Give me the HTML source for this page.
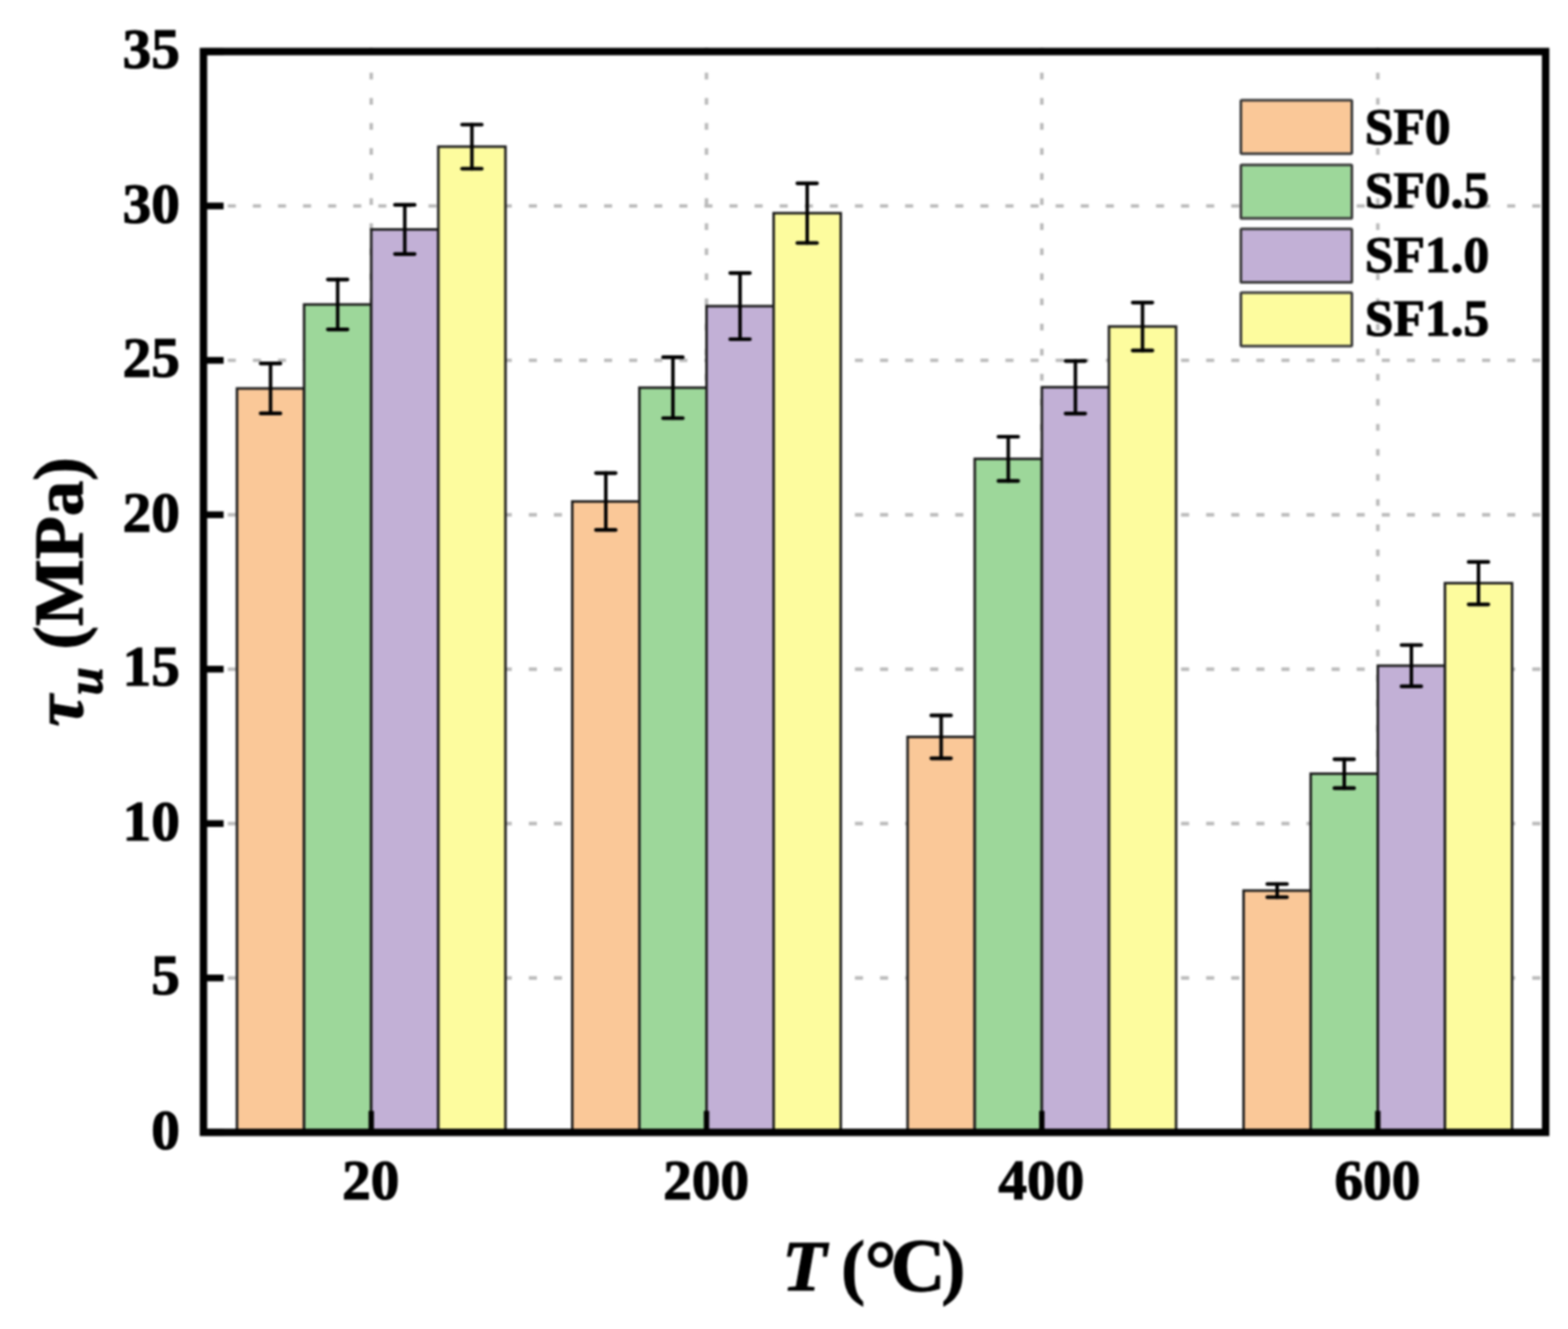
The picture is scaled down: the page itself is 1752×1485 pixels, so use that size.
<!DOCTYPE html>
<html><head><meta charset="utf-8"><title>Bond strength vs temperature</title>
<style>html,body{margin:0;padding:0;background:#fff;}svg{display:block;}#w{filter:blur(1px);}
text{font-family:"Liberation Serif","Times New Roman",serif;font-weight:bold;fill:#000;stroke:#000;stroke-width:1.2px;}</style>
</head><body>
<div id="w"><svg width="1752" height="1485" viewBox="0 0 1752 1485">
<rect x="0" y="0" width="1752" height="1485" fill="#fff"/>
<g stroke="#bababa" stroke-width="3.9" fill="none" stroke-dasharray="9 19.03">
<line x1="226.5" y1="1092.77" x2="1727.0" y2="1092.77"/>
<line x1="226.5" y1="920.24" x2="1727.0" y2="920.24"/>
<line x1="226.5" y1="747.71" x2="1727.0" y2="747.71"/>
<line x1="226.5" y1="575.19" x2="1727.0" y2="575.19"/>
<line x1="226.5" y1="402.66" x2="1727.0" y2="402.66"/>
<line x1="226.5" y1="230.13" x2="1727.0" y2="230.13"/>
<line x1="414.8" y1="53.32" x2="414.8" y2="1265.3" stroke-dasharray="7.5 20.53"/>
<line x1="789.4" y1="53.32" x2="789.4" y2="1265.3" stroke-dasharray="7.5 20.53"/>
<line x1="1164.1" y1="53.32" x2="1164.1" y2="1265.3" stroke-dasharray="7.5 20.53"/>
<line x1="1539.5" y1="53.32" x2="1539.5" y2="1265.3" stroke-dasharray="7.5 20.53"/>
</g>
<g stroke="#1a1a1a" stroke-width="2.8">
<rect x="264.8" y="434.06" width="75.0" height="831.24" fill="#FAC898"/>
<rect x="339.8" y="340.20" width="75.0" height="925.10" fill="#9DD79A"/>
<rect x="414.8" y="256.35" width="75.0" height="1008.95" fill="#C2B0D6"/>
<rect x="489.8" y="163.88" width="75.0" height="1101.42" fill="#FDFC9E"/>
<rect x="639.4" y="560.35" width="75.0" height="704.95" fill="#FAC898"/>
<rect x="714.4" y="433.19" width="75.0" height="832.11" fill="#9DD79A"/>
<rect x="789.4" y="342.07" width="75.0" height="923.23" fill="#C2B0D6"/>
<rect x="864.4" y="238.17" width="75.0" height="1027.13" fill="#FDFC9E"/>
<rect x="1014.1" y="823.39" width="75.0" height="441.91" fill="#FAC898"/>
<rect x="1089.1" y="512.73" width="75.0" height="752.57" fill="#9DD79A"/>
<rect x="1164.1" y="432.68" width="75.0" height="832.62" fill="#C2B0D6"/>
<rect x="1239.1" y="364.87" width="75.0" height="900.43" fill="#FDFC9E"/>
<rect x="1389.5" y="995.12" width="75.0" height="270.18" fill="#FAC898"/>
<rect x="1464.5" y="864.52" width="75.0" height="400.78" fill="#9DD79A"/>
<rect x="1539.5" y="743.85" width="75.0" height="521.45" fill="#C2B0D6"/>
<rect x="1614.5" y="651.62" width="75.0" height="613.68" fill="#FDFC9E"/>
</g>
<g stroke="#000" stroke-width="3.9" stroke-linecap="round" fill="none">
<path d="M302.3 406.18V461.94"/><path stroke-width="4.2" d="M291.3 406.18H313.3M291.3 461.94H313.3"/>
<path d="M377.3 312.29V368.12"/><path stroke-width="4.2" d="M366.3 312.29H388.3M366.3 368.12H388.3"/>
<path d="M452.3 228.89V283.82"/><path stroke-width="4.2" d="M441.3 228.89H463.3M441.3 283.82H463.3"/>
<path d="M527.3 139.24V188.51"/><path stroke-width="4.2" d="M516.3 139.24H538.3M516.3 188.51H538.3"/>
<path d="M676.9 528.53V592.16"/><path stroke-width="4.2" d="M665.9 528.53H687.9M665.9 592.16H687.9"/>
<path d="M751.9 399.14V467.25"/><path stroke-width="4.2" d="M740.9 399.14H762.9M740.9 467.25H762.9"/>
<path d="M826.9 305.11V379.02"/><path stroke-width="4.2" d="M815.9 305.11H837.9M815.9 379.02H837.9"/>
<path d="M901.9 204.84V271.50"/><path stroke-width="4.2" d="M890.9 204.84H912.9M890.9 271.50H912.9"/>
<path d="M1051.6 799.47V847.30"/><path stroke-width="4.2" d="M1040.6 799.47H1062.6M1040.6 847.30H1062.6"/>
<path d="M1126.6 487.99V537.47"/><path stroke-width="4.2" d="M1115.6 487.99H1137.6M1115.6 537.47H1137.6"/>
<path d="M1201.6 403.31V462.04"/><path stroke-width="4.2" d="M1190.6 403.31H1212.6M1190.6 462.04H1212.6"/>
<path d="M1276.6 338.06V391.68"/><path stroke-width="4.2" d="M1265.6 338.06H1287.6M1265.6 391.68H1287.6"/>
<path d="M1427.0 987.74V1002.50"/><path stroke-width="4.2" d="M1416.0 987.74H1438.0M1416.0 1002.50H1438.0"/>
<path d="M1502.0 848.32V880.72"/><path stroke-width="4.2" d="M1491.0 848.32H1513.0M1491.0 880.72H1513.0"/>
<path d="M1577.0 720.77V766.93"/><path stroke-width="4.2" d="M1566.0 720.77H1588.0M1566.0 766.93H1588.0"/>
<path d="M1652.0 627.94V675.29"/><path stroke-width="4.2" d="M1641.0 627.94H1663.0M1641.0 675.29H1663.0"/>
</g>
<g stroke="#000" stroke-width="8.3" fill="none">
<rect x="227.35" y="57.6" width="1499.65" height="1207.70"/>
<line x1="227.35" y1="1265.30" x2="249.85" y2="1265.30" stroke-width="7.5"/>
<line x1="227.35" y1="1092.77" x2="249.85" y2="1092.77" stroke-width="7.5"/>
<line x1="227.35" y1="920.24" x2="249.85" y2="920.24" stroke-width="7.5"/>
<line x1="227.35" y1="747.71" x2="249.85" y2="747.71" stroke-width="7.5"/>
<line x1="227.35" y1="575.19" x2="249.85" y2="575.19" stroke-width="7.5"/>
<line x1="227.35" y1="402.66" x2="249.85" y2="402.66" stroke-width="7.5"/>
<line x1="227.35" y1="230.13" x2="249.85" y2="230.13" stroke-width="7.5"/>
<line x1="227.35" y1="57.60" x2="249.85" y2="57.60" stroke-width="7.5"/>
<line x1="414.8" y1="1265.3" x2="414.8" y2="1241.3" stroke-width="6"/>
<line x1="789.4" y1="1265.3" x2="789.4" y2="1241.3" stroke-width="6"/>
<line x1="1164.1" y1="1265.3" x2="1164.1" y2="1241.3" stroke-width="6"/>
<line x1="1539.5" y1="1265.3" x2="1539.5" y2="1241.3" stroke-width="6"/>
</g>
<g font-size="64" text-anchor="end">
<text x="201" y="1283.9">0</text>
<text x="201" y="1111.4">5</text>
<text x="201" y="938.8">10</text>
<text x="201" y="766.3">15</text>
<text x="201" y="593.8">20</text>
<text x="201" y="421.3">25</text>
<text x="201" y="248.7">30</text>
<text x="201" y="76.2">35</text>
</g>
<g font-size="64" text-anchor="middle">
<text x="414.3" y="1340">20</text>
<text x="788.9" y="1340">200</text>
<text x="1163.6" y="1340">400</text>
<text x="1539.0" y="1340">600</text>
</g>
<text y="1442" font-size="79.5"><tspan x="874" y="1441.5" font-size="81" font-style="italic">T </tspan><tspan x="940" y="1442">(</tspan><tspan x="966" y="1449" font-size="90">°</tspan><tspan x="995" y="1443.3" font-size="85">C</tspan><tspan x="1052" y="1442">)</tspan></text>
<text transform="translate(92,661.3) rotate(-90)" font-size="79" text-anchor="middle"><tspan font-style="italic">τ</tspan><tspan font-style="italic" font-size="56" dy="22">u</tspan><tspan dy="-22"> (MPa)</tspan></text>
<g stroke="#3a3a3a" stroke-width="3">
<rect x="1386.5" y="111.9" width="124" height="59.9" rx="1.2" fill="#FAC898"/>
<rect x="1386.5" y="184.2" width="124" height="59.9" rx="1.2" fill="#9DD79A"/>
<rect x="1386.5" y="255.7" width="124" height="59.9" rx="1.2" fill="#C2B0D6"/>
<rect x="1386.5" y="326.9" width="124" height="59.9" rx="1.2" fill="#FDFC9E"/>
</g>
<g font-size="57.5">
<text x="1525" y="160.9">SF0</text>
<text x="1525" y="232.4">SF0.5</text>
<text x="1525" y="303.9">SF1.0</text>
<text x="1525" y="375.4">SF1.5</text>
</g>
</svg></div></body></html>
